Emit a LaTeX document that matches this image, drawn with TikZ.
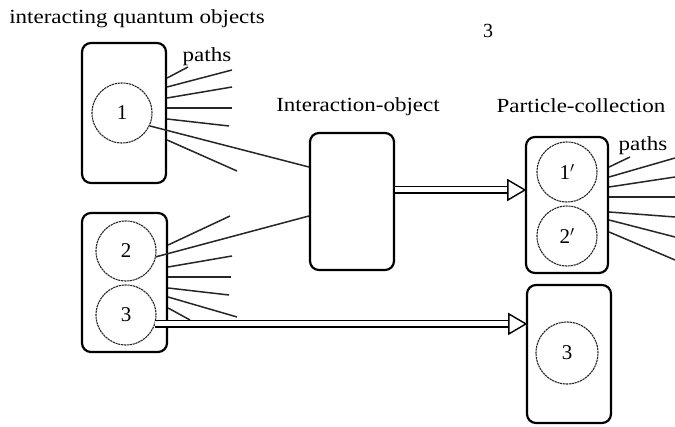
\documentclass[tikz,border=0pt]{standalone}
\usepackage{graphicx}
\usepackage{fontspec}
\setmainfont{Liberation Serif}
\usetikzlibrary{calc}
\newcommand\hstretch[1]{\scalebox{1.15}[1]{#1}}
\begin{document}
\begin{tikzpicture}[x=1pt,y=-1pt,
  qbox/.style={draw=black, line width=2.2pt, rounded corners=9pt, inner sep=0pt},
  qcirc/.style={circle, draw=black!85, line width=1.1pt, dash pattern=on 2.2pt off 0.7pt,
                minimum size=60pt, inner sep=0pt, font=\fontsize{21}{24}\selectfont},
  pathline/.style={line width=1.5pt, draw=black!85},
  lbl/.style={font=\fontsize{20}{24}\selectfont, inner sep=0pt, anchor=base},
  dbl/.style={draw=black, double=white, double distance=5pt, line width=1.4pt},
  tri/.style={draw=black, fill=white, line width=1.4pt, line join=miter}
]
\fill[white] (0,0) rectangle (675,427);
\useasboundingbox (0,0) rectangle (675,427);

% labels
\node[lbl] (title) at (137,24) {\hstretch{interacting quantum objects}};
\node[lbl] (three) at (488,38) {3};
\node[lbl] (paths1) at (207,62) {\hstretch{paths}};
\node[lbl] (iolbl) at (358,112) {\hstretch{Interaction-object}};
\node[lbl] (pclbl) at (581,113) {\hstretch{Particle-collection}};
\node[lbl] (paths2) at (643,151) {\hstretch{paths}};

% boxes
\node[qbox, minimum width=84pt, minimum height=140pt] (b1) at (124,113) {};
\node[qbox, minimum width=85pt, minimum height=139pt] (b23) at (124.5,282.5) {};
\node[qbox, minimum width=84pt, minimum height=137pt] (io) at (352,201.5) {};
\node[qbox, minimum width=82pt, minimum height=136pt] (pc) at (567,205) {};
\node[qbox, minimum width=84pt, minimum height=138pt] (b3p) at (569,354) {};

% circles
\node[qcirc] (c1) at (122,113) {1};
\node[qcirc] (c2) at (126,251) {2};
\node[qcirc] (c3) at (126,315) {3};
\node[qcirc] (c1p) at (567,172) {1$'$};
\node[qcirc] (c2p) at (567,236) {2$'$};
\node[qcirc, minimum size=62pt] (c3p) at (567,353) {3};

% paths of object 1
\draw[pathline] (b1.east |- 0,78) -- (188,67);
\draw[pathline] (b1.east |- 0,87) -- (232,70);
\draw[pathline] (b1.east |- 0,98) -- (232,87);
\draw[pathline] (b1.east |- 0,108) -- (232,108);
\draw[pathline] (b1.east |- 0,119) -- (229,126);
\draw[pathline] (b1.east |- 0,140) -- (237,171);
\draw[pathline] (c1.-25) -- (io.west |- 0,167);

% paths of objects 2,3
\draw[pathline] (b23.east |- 0,245) -- (230,216);
\draw[pathline] (b23.east |- 0,267) -- (232,256);
\draw[pathline] (b23.east |- 0,277) -- (231,277);
\draw[pathline] (b23.east |- 0,288) -- (229,295);
\draw[pathline] (b23.east |- 0,297) -- (237,317);
\draw[pathline] (b23.east |- 0,308) -- (190,320);
\draw[pathline] (c2.-11) -- (io.west |- 0,216);

% paths of particle collection
\draw[pathline] (pc.east |- 0,167) -- (630,157);
\draw[pathline] (pc.east |- 0,177) -- (675,158);
\draw[pathline] (pc.east |- 0,187) -- (675,177);
\draw[pathline] (pc.east |- 0,197) -- (675,197);
\draw[pathline] (pc.east |- 0,212) -- (675,217);
\draw[pathline] (pc.east |- 0,220) -- (675,237);
\draw[pathline] (pc.east |- 0,232) -- (675,260);

% double arrows
\draw[dbl] (io.east |- 0,190) -- ($(pc.west |- 0,190)+(-17,0)$);
\draw[tri] (pc.west |- 0,190) -- ++(-17,-10) -- ++(0,20) -- cycle;
\draw[dbl] (c3.-17) -- ($(c3.-17 -| b3p.west)+(-17,0)$);
\draw[tri] (c3.-17 -| b3p.west) -- ++(-17,-10) -- ++(0,20) -- cycle;
\end{tikzpicture}
\end{document}
